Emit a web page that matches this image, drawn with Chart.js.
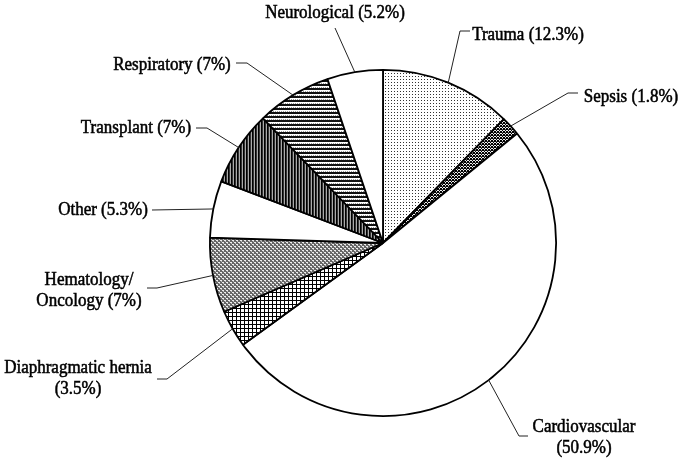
<!DOCTYPE html>
<html>
<head>
<meta charset="utf-8">
<script src="https://cdn.jsdelivr.net/npm/chart.js@4.4.1/dist/chart.umd.min.js"></script>
<style>
  html, body { margin: 0; padding: 0; background: #fff; }
  #wrap { width: 685px; height: 460px; position: relative; }
</style>
</head>
<body>
<div id="wrap"><canvas id="admission-pie"></canvas></div>
<script>
// Data (clockwise from 12 o'clock)
const categories = ['Trauma', 'Sepsis', 'Cardiovascular', 'Diaphragmatic hernia',
  'Hematology/Oncology', 'Other', 'Transplant', 'Respiratory', 'Neurological'];
const shares = [12.3, 1.8, 50.9, 3.5, 7, 5.3, 7, 7, 5.2];
const fills = ['dotsLight', 'crossDense', 'white', 'grid', 'dotsDense', 'white', 'vstripes', 'hstripes', 'white'];

// Label placement: text centre, line break style, and leader elbow points (anchor is the slice edge)
const labelLayout = [
  { x: 528, y: 35,  split: 'none',  path: [[460, 31], [470, 31]] },
  { x: 631, y: 97,  split: 'none',  path: [[568, 93], [578, 93]] },
  { x: 584, y: 427, split: 'pct',   path: [[519, 436], [528, 436]] },
  { x: 78,  y: 368, split: 'pct',   path: [[167, 379], [157, 379]] },
  { x: 89,  y: 280, split: 'slash', path: [[157, 288], [147, 288]] },
  { x: 103, y: 210, split: 'none',  path: [[152, 210]] },
  { x: 136, y: 128, split: 'none',  path: [[207, 128], [196, 128]] },
  { x: 172, y: 65,  split: 'none',  path: [[247, 63], [236, 63]] },
  { x: 335, y: 13,  split: 'none',  path: [[335, 28]] }
];

// Build the halftone-like fill patterns
function makePattern(kind) {
  const c = document.createElement('canvas');
  const g = c.getContext('2d');
  function px(x, y, col) { g.fillStyle = col; g.fillRect(x, y, 1, 1); }
  if (kind === 'white') return '#ffffff';
  if (kind === 'dotsLight') {
    c.width = 3; c.height = 3;
    g.fillStyle = '#fff'; g.fillRect(0, 0, 3, 3);
    px(1, 1, '#333');
  } else if (kind === 'crossDense') {
    c.width = 3; c.height = 3;
    g.fillStyle = '#eee'; g.fillRect(0, 0, 3, 3);
    px(0, 0, '#000'); px(1, 1, '#000'); px(2, 2, '#000');
    px(2, 0, '#000'); px(0, 2, '#000'); px(1, 0, '#555');
  } else if (kind === 'grid') {
    c.width = 4; c.height = 4;
    g.fillStyle = '#fff'; g.fillRect(0, 0, 4, 4);
    g.fillStyle = '#000'; g.fillRect(0, 0, 4, 1); g.fillRect(0, 0, 1, 4);
  } else if (kind === 'dotsDense') {
    c.width = 4; c.height = 4;
    g.fillStyle = '#666'; g.fillRect(0, 0, 4, 4);
    g.fillStyle = '#eee'; g.fillRect(0, 0, 2, 1); g.fillRect(2, 2, 2, 1);
    px(1, 1, '#bbb'); px(3, 3, '#bbb');
  } else if (kind === 'vstripes') {
    c.width = 3; c.height = 1;
    px(0, 0, '#000'); px(1, 0, '#333'); px(2, 0, '#aaa');
  } else if (kind === 'hstripes') {
    c.width = 2; c.height = 4;
    g.fillStyle = '#fff'; g.fillRect(0, 0, 2, 4);
    g.fillStyle = '#111'; g.fillRect(0, 0, 2, 2);
    px(1, 3, '#999');
  }
  return g.createPattern(c, 'repeat');
}

function labelText(i) {
  const name = categories[i];
  const pct = '(' + shares[i] + '%)';
  const mode = labelLayout[i].split;
  if (mode === 'pct') return [name, pct];
  if (mode === 'slash') {
    const k = name.indexOf('/') + 1;
    return [name.slice(0, k), name.slice(k) + ' ' + pct];
  }
  return [name + ' ' + pct];
}

// Draws the callout labels with leader lines to each slice's outer edge
const calloutPlugin = {
  id: 'callouts',
  afterDatasetsDraw(chart) {
    const ctx = chart.ctx;
    const meta = chart.getDatasetMeta(0);
    ctx.save();
    meta.data.forEach((arc, i) => {
      const p = arc.getProps(['x', 'y', 'startAngle', 'endAngle', 'outerRadius'], true);
      const mid = (p.startAngle + p.endAngle) / 2;
      const ax = p.x + Math.cos(mid) * p.outerRadius;
      const ay = p.y + Math.sin(mid) * p.outerRadius;
      const lay = labelLayout[i];
      ctx.strokeStyle = '#222';
      ctx.lineWidth = 1;
      ctx.beginPath();
      ctx.moveTo(ax, ay);
      lay.path.forEach(pt => ctx.lineTo(pt[0], pt[1]));
      ctx.stroke();

      // scanned serif text: a touch taller and heavier than plain Times
      ctx.font = '17px "Liberation Serif", "Times New Roman", serif';
      ctx.textAlign = 'center';
      ctx.textBaseline = 'middle';
      ctx.fillStyle = '#000';
      ctx.strokeStyle = '#000';
      ctx.lineWidth = 0.5;
      labelText(i).forEach((line, j) => {
        ctx.save();
        ctx.translate(lay.x, lay.y + j * 21);
        ctx.scale(1, 1.1);
        ctx.fillText(line, 0, 0);
        ctx.strokeText(line, 0, 0);
        ctx.restore();
      });
    });
    ctx.restore();
  }
};

new Chart(document.getElementById('admission-pie'), {
  type: 'pie',
  data: {
    labels: categories,
    datasets: [{
      data: shares,
      backgroundColor: fills.map(makePattern),
      borderColor: '#000',
      borderWidth: 1.8
    }]
  },
  options: {
    responsive: true,
    maintainAspectRatio: false,
    animation: false,
    devicePixelRatio: 1,
    layout: { padding: { left: 209, right: 128, top: 69, bottom: 43 } },
    plugins: {
      legend: { display: false },
      tooltip: { enabled: false }
    }
  },
  plugins: [calloutPlugin]
});
</script>
</body>
</html>
